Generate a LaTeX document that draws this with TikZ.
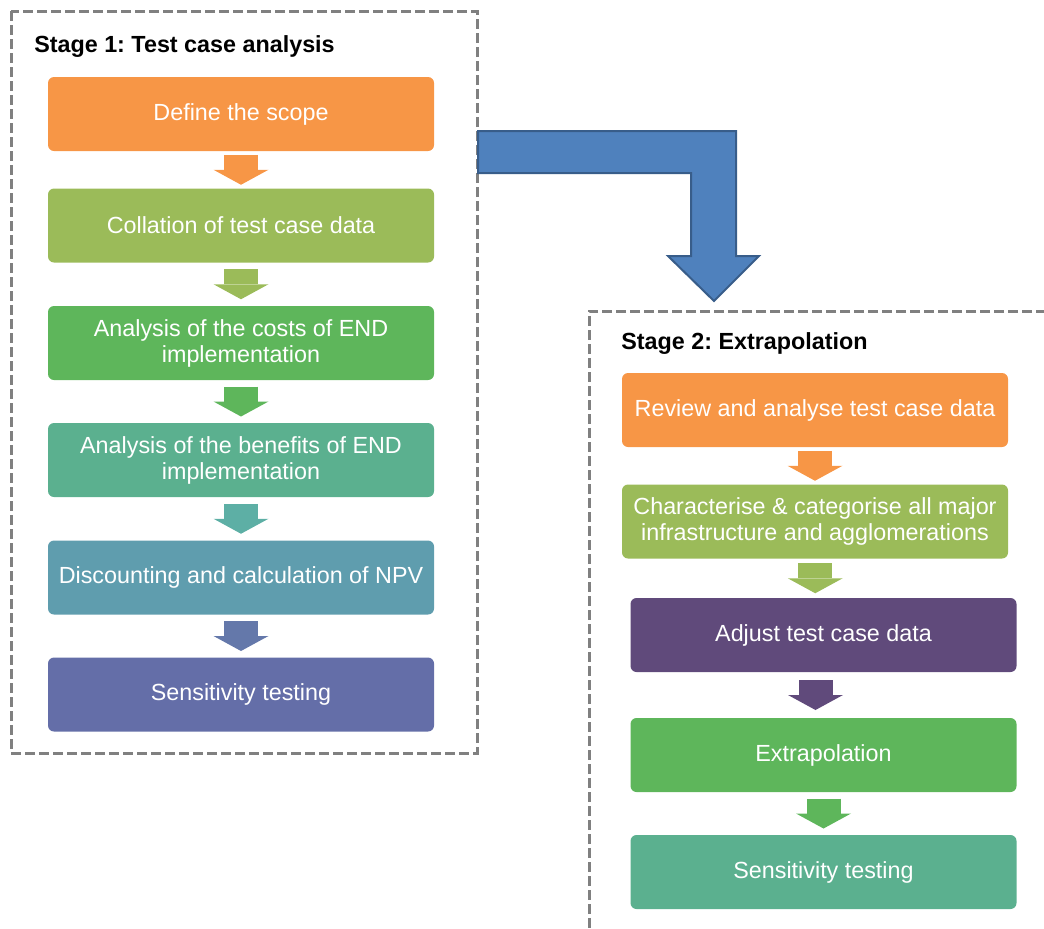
\documentclass[tikz,border=0pt]{standalone}
\usepackage{fontspec}
\setmainfont{Liberation Sans}
\usetikzlibrary{arrows.meta,calc}
\frenchspacing

\definecolor{stOrange}{HTML}{F79646}
\definecolor{stLime}{HTML}{9BBB59}
\definecolor{stGreen}{HTML}{5EB65B}
\definecolor{stSea}{HTML}{5BB08F}
\definecolor{stTeal}{HTML}{5F9DAE}
\definecolor{stSlate}{HTML}{646EA8}
\definecolor{stPurple}{HTML}{604A7B}
\definecolor{arTeal}{HTML}{5DAFA5}
\definecolor{arSlate}{HTML}{6478AA}
\definecolor{bigBlue}{HTML}{4F81BD}
\definecolor{bigBlueEdge}{HTML}{385D8A}
\definecolor{frameGray}{HTML}{808080}

\begin{document}
\begin{tikzpicture}[x=0.75pt,y=-0.75pt,
    stepbox/.style={rectangle, rounded corners=4.5pt, fill=#1, text=white,
        minimum width=289.5pt, minimum height=55.5pt, inner sep=0pt,
        align=center, font=\fontsize{17.5}{19.5}\selectfont},
    flowarrow/.style={draw=#1, line width=25.5pt,
        -{Triangle[width=41.25pt,length=11.25pt,line width=0pt]}},
    stageframe/.style={draw=frameGray, line width=2.25pt,
        dash pattern=on 7.5pt off 3pt},
    stagetitle/.style={anchor=base west, inner sep=0pt,
        font=\bfseries\fontsize{17.5}{21}\selectfont}]
    \useasboundingbox (0,0) rectangle (1044,928);

    % stage 1
    \draw[stageframe] (11,11) rectangle (477,753);
    \path (34,52) node[stagetitle](title1){Stage 1: Test case analysis};
    \path (241,114) node[stepbox=stOrange](s1){Define the scope};
    \path (241,225.5) node[stepbox=stLime](s2){Collation of test case data};
    \path (241,343) node[stepbox=stGreen](s3){Analysis of the costs of END\\
        implementation};
    \path (241,460) node[stepbox=stSea](s4){Analysis of the benefits of END\\
        implementation};
    \path (241,577.5) node[stepbox=stTeal](s5){Discounting and calculation of NPV};
    \path (241,694.5) node[stepbox=stSlate](s6){Sensitivity testing};
    \draw[flowarrow=stOrange] ($(s1.south)!.5!(s2.north)+(0,-15)$) -- ++(0,30);
    \draw[flowarrow=stLime] ($(s2.south)!.5!(s3.north)+(0,-15)$) -- ++(0,30);
    \draw[flowarrow=stGreen] ($(s3.south)!.5!(s4.north)+(0,-15)$) -- ++(0,30);
    \draw[flowarrow=arTeal] ($(s4.south)!.5!(s5.north)+(0,-15)$) -- ++(0,30);
    \draw[flowarrow=arSlate] ($(s5.south)!.5!(s6.north)+(0,-15)$) -- ++(0,30);

    % link between the stages
    \draw[fill=bigBlue, draw=bigBlueEdge, line width=1.5pt, line join=miter]
        (478,131) -- (736,131) -- (736,256) -- (759,256) -- (714,301)
        -- (668,256) -- (691,256) -- (691,173) -- (478,173) -- cycle;

    % stage 2
    \draw[stageframe] (1060,311) -- (589,311) -- (589,940);
    \path (621,349) node[stagetitle](title2){Stage 2: Extrapolation};
    \path (815,410) node[stepbox=stOrange](r1){Review and analyse test case data};
    \path (815,521.5) node[stepbox=stLime](r2){Characterise \& categorise all major\\
        infrastructure and agglomerations};
    \path (823.5,635) node[stepbox=stPurple](r3){Adjust test case data};
    \path (823.5,755) node[stepbox=stGreen](r4){Extrapolation};
    \path (823.5,872) node[stepbox=stSea](r5){Sensitivity testing};
    \draw[flowarrow=stOrange] ($(r1.south)!.5!(r2.north)+(0,-15)$) -- ++(0,30);
    \draw[flowarrow=stLime] ($(r2.south)!.5!(r3.north)+(-4,-15)$) -- ++(0,30);
    \draw[flowarrow=stPurple] ($(r3.south)!.5!(r4.north)+(-8,-15)$) -- ++(0,30);
    \draw[flowarrow=stGreen] ($(r4.south)!.5!(r5.north)+(0,-15)$) -- ++(0,30);
\end{tikzpicture}
\end{document}
